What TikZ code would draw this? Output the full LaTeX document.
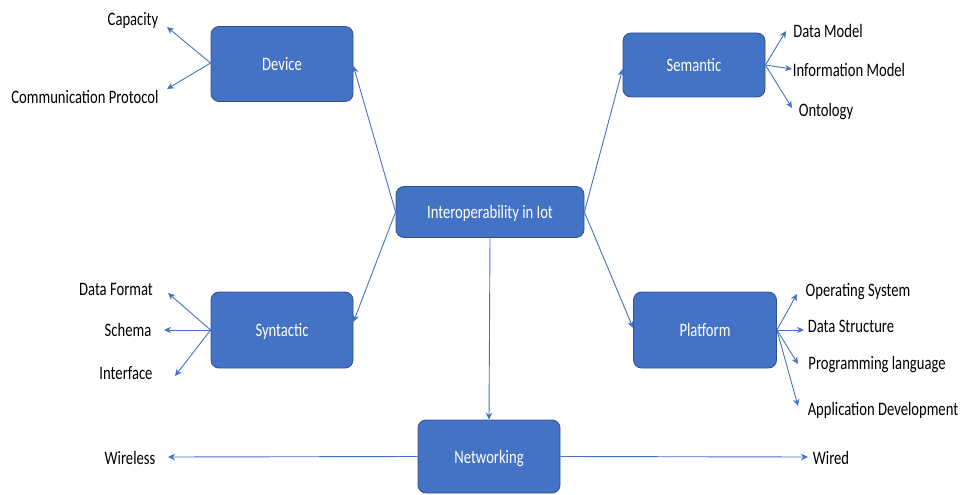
\documentclass[tikz,border=0pt]{standalone}
\usepackage{fontspec}
\setmainfont{Carlito}
\usetikzlibrary{arrows.meta}
\definecolor{boxblue}{HTML}{4472C4}
\definecolor{boxedge}{HTML}{2F528F}
\newcommand{\sqz}[1]{\scalebox{0.77}[1]{#1}}
\begin{document}
\begin{tikzpicture}[x=1pt,y=-1pt,
  box/.style={draw=boxedge, line width=0.8pt, fill=boxblue, rounded corners=8pt, text=white,
    font=\fontsize{19}{22}\selectfont, inner sep=0pt, text height=13pt, text depth=0pt},
  lbl/.style={inner sep=0pt, font=\fontsize{19}{22}\selectfont, text height=13pt, text depth=0pt},
  conn/.style={draw=boxblue, line width=0.9pt, -{Stealth[length=7pt,width=6.5pt]}}]
\useasboundingbox (0,0) rectangle (962,495);
% boxes
\node[box, minimum width=142pt, minimum height=75pt] (dev) at (282,64) {\sqz{Device}};
\node[box, minimum width=142pt, minimum height=64pt] (sem) at (694,65) {\sqz{Semantic}};
\node[box, minimum width=188pt, minimum height=51pt] (iot) at (490,212) {\sqz{Interoperability in Iot}};
\node[box, minimum width=142pt, minimum height=76pt] (syn) at (282,330) {\sqz{Syntactic}};
\node[box, minimum width=143pt, minimum height=76pt] (plat) at (705,330) {\sqz{Platform}};
\node[box, minimum width=142pt, minimum height=73pt] (net) at (489,456.5) {\sqz{Networking}};
% labels
\node[lbl] (cap) at (133,19) {\sqz{Capacity}};
\node[lbl] (comm) at (85,97) {\sqz{Communication Protocol}};
\node[lbl] (dm) at (828,31) {\sqz{Data Model}};
\node[lbl] (im) at (849,70) {\sqz{Information Model}};
\node[lbl] (ont) at (826,110) {\sqz{Ontology}};
\node[lbl] (df) at (116,289) {\sqz{Data Format}};
\node[lbl] (sch) at (128,330) {\sqz{Schema}};
\node[lbl] (intf) at (126,373) {\sqz{Interface}};
\node[lbl] (os) at (858,290) {\sqz{Operating System}};
\node[lbl] (ds) at (851,326) {\sqz{Data Structure}};
\node[lbl] (pl) at (877,363) {\sqz{Programming language}};
\node[lbl] (ad) at (883,409) {\sqz{Application Development}};
\node[lbl] (wl) at (130,458) {\sqz{Wireless}};
\node[lbl] (wd) at (831,458) {\sqz{Wired}};
% arrow tip coordinates
\coordinate (tcap) at (167,27);
\coordinate (tcomm) at (167,89);
\coordinate (tdm) at (786,31);
\coordinate (tim) at (792,69);
\coordinate (tont) at (792,108);
\coordinate (tdf) at (168,293);
\coordinate (tsch) at (164,330);
\coordinate (tintf) at (175,376);
\coordinate (tos) at (797,294);
\coordinate (tds) at (804,330);
\coordinate (tpl) at (798,364);
\coordinate (tad) at (798,406);
\coordinate (twl) at (168,457);
\coordinate (twd) at (808,457);
% main connectors
\draw[conn] (iot.west) -- ([yshift=-2pt]dev.east);
\draw[conn] (iot.west) -- ([yshift=8pt]syn.east);
\draw[conn] (iot.east) -- ([yshift=-4pt]sem.west);
\draw[conn] (iot.east) -- ([yshift=2pt]plat.west);
\draw[conn] (iot.south) -- (net.north);
% children
\draw[conn] ([yshift=1pt]dev.west) -- (tcap);
\draw[conn] ([yshift=1pt]dev.west) -- (tcomm);
\draw[conn] (sem.east) -- (tdm);
\draw[conn] (sem.east) -- (tim);
\draw[conn] (sem.east) -- (tont);
\draw[conn] (syn.west) -- (tdf);
\draw[conn] (syn.west) -- (tsch);
\draw[conn] (syn.west) -- (tintf);
\draw[conn] (plat.east) -- (tos);
\draw[conn] (plat.east) -- (tds);
\draw[conn] (plat.east) -- (tpl);
\draw[conn] (plat.east) -- (tad);
\draw[conn] (net.west) -- (twl);
\draw[conn] (net.east) -- (twd);
\end{tikzpicture}
\end{document}
